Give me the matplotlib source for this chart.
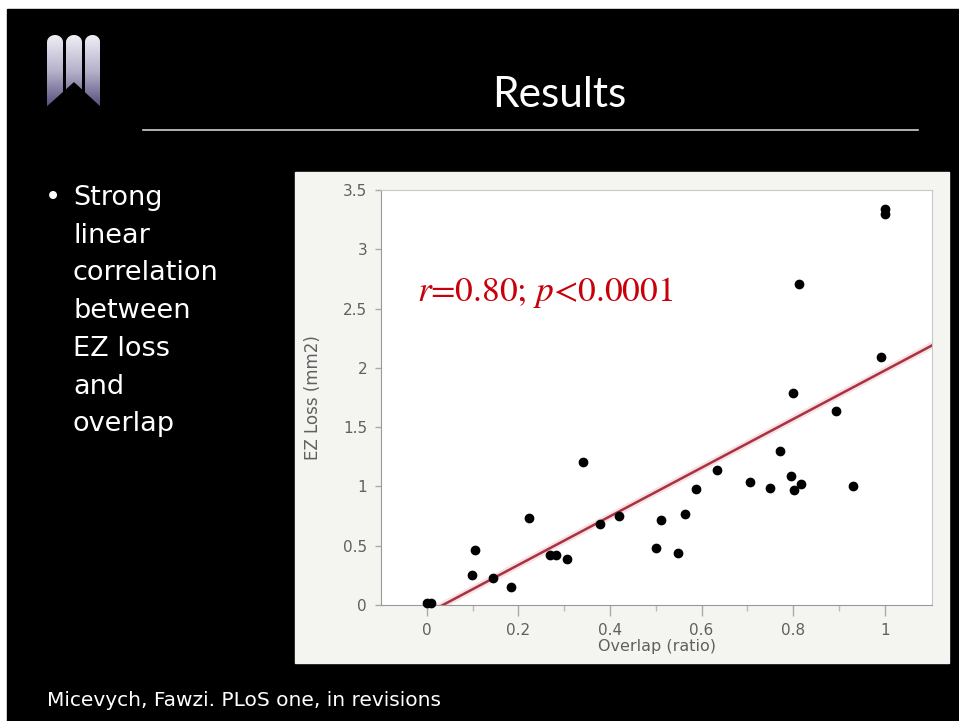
import numpy as np
import matplotlib.pyplot as plt
from matplotlib.patches import Rectangle, Polygon, PathPatch
from matplotlib.path import Path
from matplotlib.lines import Line2D
from matplotlib.colors import LinearSegmentedColormap

plt.rcParams['mathtext.fontset'] = 'stix'

# data
overlap = [0.0, 0.01, 0.099, 0.105, 0.145, 0.183, 0.223, 0.269, 0.282, 0.307,
           0.341, 0.378, 0.419, 0.50, 0.512, 0.548, 0.563, 0.587, 0.634, 0.706,
           0.749, 0.771, 0.796, 0.801, 0.818, 0.894, 0.931, 0.80, 0.813, 0.991,
           1.0, 1.0]
ez_loss = [0.02, 0.02, 0.25, 0.46, 0.23, 0.15, 0.73, 0.42, 0.42, 0.39,
           1.21, 0.68, 0.75, 0.48, 0.72, 0.44, 0.77, 0.98, 1.14, 1.04,
           0.99, 1.30, 1.09, 0.97, 1.02, 1.64, 1.00, 1.79, 2.71, 2.09,
           3.30, 3.34]
fit_slope = 2.05
fit_intercept = -0.072

x_ticks = [0, 0.2, 0.4, 0.6, 0.8, 1]
x_ticklabels = ['0', '0.2', '0.4', '0.6', '0.8', '1']
y_ticks = [0, 0.5, 1, 1.5, 2, 2.5, 3, 3.5]
y_ticklabels = ['0', '0.5', '1', '1.5', '2', '2.5', '3', '3.5']

bullet_lines = ['Strong', 'linear', 'correlation', 'between', 'EZ loss', 'and', 'overlap']

W, H = 959, 721


def fx(px):
    return px / W


def fy(py):
    return 1 - py / H


fig = plt.figure(figsize=(W / 100, H / 100), dpi=100)
fig.patch.set_facecolor('white')

# black slide
fig.add_artist(Rectangle((fx(7), 0), 1 - fx(7), fy(9), transform=fig.transFigure,
                         color='black', zorder=-3))

# logo
lax = fig.add_axes([fx(44), fy(111), fx(104) - fx(44), fy(32) - fy(111)])
lax.set_xlim(44, 104)
lax.set_ylim(111, 32)
lax.axis('off')
cmap = LinearSegmentedColormap.from_list('logo', ['#f4f4f8', '#b4b1ca', '#4a4272'])
grad = np.linspace(0, 1, 256).reshape(-1, 1)
img = lax.imshow(grad, extent=(44, 104, 111, 32), aspect='auto', cmap=cmap)

verts, codes = [], []
for x0, x1 in [(47, 63), (66, 82), (85, 100)]:
    r = (x1 - x0) / 2
    cx, cy = (x0 + x1) / 2, 35 + r * 0.9
    t = np.linspace(np.pi, 2 * np.pi, 24)
    pts = [(x0, 108)] + list(zip(cx + r * np.cos(t), cy + r * 0.9 * np.sin(t))) + [(x1, 108), (x0, 108)]
    verts += pts
    codes += [Path.MOVETO] + [Path.LINETO] * (len(pts) - 2) + [Path.CLOSEPOLY]
clip = PathPatch(Path(verts, codes), transform=lax.transData, facecolor='none', edgecolor='none')
lax.add_patch(clip)
img.set_clip_path(clip)
lax.add_patch(Polygon([(45, 109), (74, 83), (102, 109)], color='black'))

# title and rule
fig.text(fx(559), fy(95), 'Results', ha='center', va='center', fontsize=30.5,
         color='white', family='Lato')
fig.add_artist(Line2D([fx(143), fx(918)], [fy(130), fy(130)], color='#d0d0d0', lw=1.2))

# bullet text
fig.text(fx(53), fy(205), '•', ha='center', va='baseline', fontsize=19.5,
         color='white', family='DejaVu Sans')
for i, line in enumerate(bullet_lines):
    fig.text(fx(73), fy(205 + i * 37.7), line, ha='left', va='baseline',
             fontsize=19.5, color='white', family='DejaVu Sans')

# footer
fig.text(fx(47), fy(701), 'Micevych, Fawzi. PLoS one, in revisions', ha='left',
         va='center', fontsize=14.5, color='white', family='DejaVu Sans')

# chart panel
fig.add_artist(Rectangle((fx(295), fy(663)), fx(949) - fx(295), fy(172) - fy(663),
                         transform=fig.transFigure, color='#f4f4f1', zorder=-2))

ax = fig.add_axes([fx(381), fy(605), fx(932) - fx(381), fy(190) - fy(605)])
ax.set_facecolor('white')
ax.set_xlim(-0.1, 1.103)
ax.set_ylim(0, 3.5)

xs = np.array([-0.1, 1.103])
ax.plot(xs, fit_slope * xs + fit_intercept, color='#f2c4cc', lw=5, alpha=0.5, zorder=2)
ax.plot(xs, fit_slope * xs + fit_intercept, color='#a8323f', lw=1.8, zorder=3)
ax.scatter(overlap, ez_loss, s=36, color='black', zorder=4, clip_on=False)

ax.text(-0.022, 2.56, r'$r$=0.80; $p$<0.0001', color='#c8000a', fontsize=25.5,
        family='STIXGeneral', va='baseline', ha='left')

ax.set_xticks(x_ticks)
ax.set_xticklabels(x_ticklabels)
ax.set_xticks([0.1, 0.3, 0.5, 0.7, 0.9], minor=True)
ax.set_yticks(y_ticks)
ax.set_yticklabels(y_ticklabels)
ax.tick_params(axis='x', which='major', length=8, width=1, color='#aaaaaa', pad=5,
               labelsize=11, labelcolor='#606060')
ax.tick_params(axis='x', which='minor', length=4, width=1, color='#bbbbbb')
ax.tick_params(axis='y', length=4, width=1, color='#aaaaaa', pad=6,
               labelsize=11, labelcolor='#606060')
for lab in ax.get_xticklabels() + ax.get_yticklabels():
    lab.set_family('DejaVu Sans')

ax.set_xlabel('Overlap (ratio)', color='#606060', fontsize=11.5, family='DejaVu Sans', labelpad=1)
ax.set_ylabel('EZ Loss (mm2)', color='#606060', fontsize=12, family='DejaVu Sans', labelpad=15)

for side in ['left', 'bottom']:
    ax.spines[side].set_color('#999999')
for side in ['top', 'right']:
    ax.spines[side].set_color('#c8c8c8')

fig.savefig('out.png', dpi=100, facecolor='white')
